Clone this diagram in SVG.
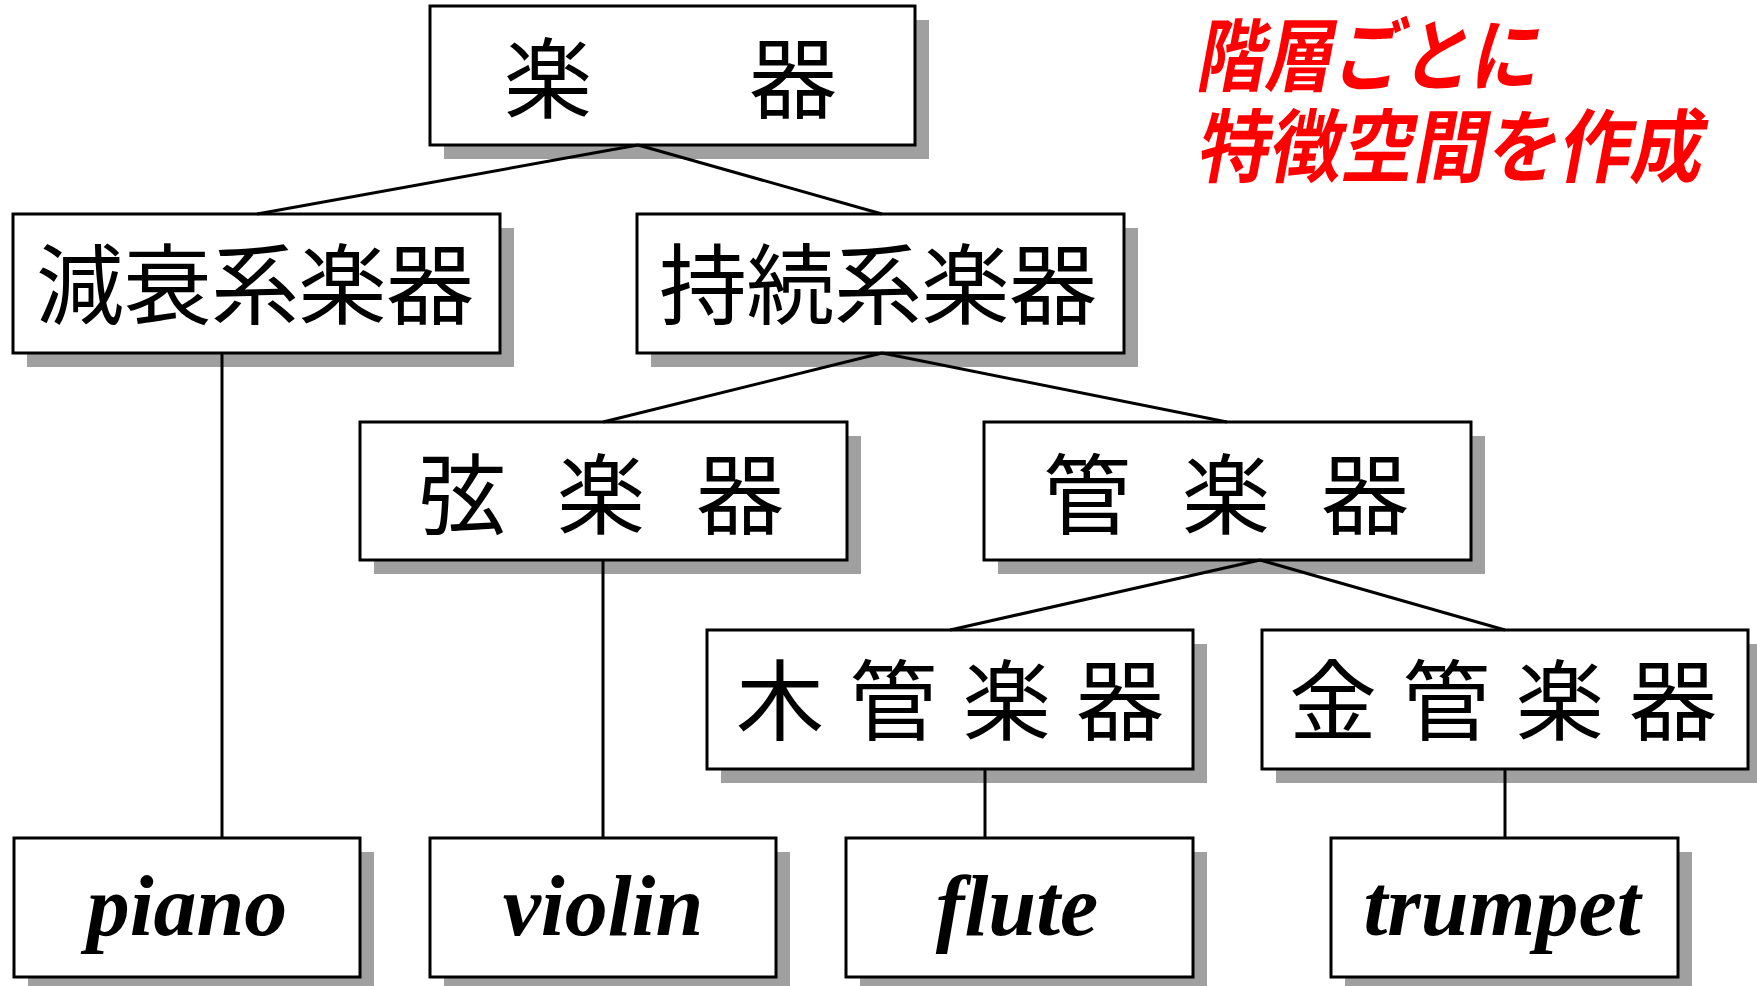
<svg xmlns="http://www.w3.org/2000/svg" width="1757" height="986" viewBox="0 0 1757 986">
<style>
.bg{fill:#ffffff}
.sh{fill:#a0a0a0}
.bx{fill:#ffffff;stroke:#000000;stroke-width:3}
.jp{font-family:"Noto Sans CJK JP","Noto Sans CJK SC",sans-serif;font-size:88px;fill:#000000}
.en{font-family:"Liberation Serif","Times New Roman",serif;font-size:86px;font-weight:bold;font-style:italic;fill:#000000;text-anchor:middle}
.red{font-family:"Noto Sans CJK JP","Noto Sans CJK SC",sans-serif;font-size:80px;font-weight:bold;fill:#ff0000}
.ln{stroke:#000000;stroke-width:3;fill:none}
</style>
<rect class="bg" x="0" y="0" width="1757" height="986"/>
<g id="n-gakki">
<rect class="sh" x="444" y="20" width="485" height="139"/>
<rect class="bx" x="430" y="6" width="485" height="139"/>
<text class="jp" x="504" y="111" textLength="333" lengthAdjust="spacing">楽　　器</text>
</g>
<g id="n-gensui">
<rect class="sh" x="27" y="228" width="487" height="139"/>
<rect class="bx" x="13" y="214" width="487" height="139"/>
<text class="jp" x="36" y="317" textLength="438" lengthAdjust="spacing">減衰系楽器</text>
</g>
<g id="n-jizoku">
<rect class="sh" x="651" y="228" width="487" height="139"/>
<rect class="bx" x="637" y="214" width="487" height="139"/>
<text class="jp" x="659" y="317" textLength="438" lengthAdjust="spacing">持続系楽器</text>
</g>
<g id="n-gen">
<rect class="sh" x="374" y="436" width="487" height="138"/>
<rect class="bx" x="360" y="422" width="487" height="138"/>
<text class="jp" x="418" y="527" textLength="366" lengthAdjust="spacing">弦 楽 器</text>
</g>
<g id="n-kan">
<rect class="sh" x="998" y="436" width="487" height="138"/>
<rect class="bx" x="984" y="422" width="487" height="138"/>
<text class="jp" x="1043" y="527" textLength="366" lengthAdjust="spacing">管 楽 器</text>
</g>
<g id="n-mokkan">
<rect class="sh" x="721" y="644" width="486" height="139"/>
<rect class="bx" x="707" y="630" width="486" height="139"/>
<text class="jp" x="736" y="733" textLength="428" lengthAdjust="spacing">木 管 楽 器</text>
</g>
<g id="n-kinkan">
<rect class="sh" x="1276" y="644" width="486" height="139"/>
<rect class="bx" x="1262" y="630" width="486" height="139"/>
<text class="jp" x="1289" y="733" textLength="428" lengthAdjust="spacing">金 管 楽 器</text>
</g>
<g id="n-piano">
<rect class="sh" x="28" y="852" width="346" height="139"/>
<rect class="bx" x="14" y="838" width="346" height="139"/>
<text class="en" x="187" y="935">piano</text>
</g>
<g id="n-violin">
<rect class="sh" x="444" y="852" width="346" height="139"/>
<rect class="bx" x="430" y="838" width="346" height="139"/>
<text class="en" x="603" y="935">violin</text>
</g>
<g id="n-flute">
<rect class="sh" x="860" y="852" width="347" height="139"/>
<rect class="bx" x="846" y="838" width="347" height="139"/>
<text class="en" x="1017" y="935">flute</text>
</g>
<g id="n-trumpet">
<rect class="sh" x="1345" y="852" width="347" height="139"/>
<rect class="bx" x="1331" y="838" width="347" height="139"/>
<text class="en" x="1502" y="935">trumpet</text>
</g>
<g id="connectors">
<line class="ln" x1="638" y1="145" x2="257" y2="214"/>
<line class="ln" x1="638" y1="145" x2="882" y2="214"/>
<line class="ln" x1="222" y1="353" x2="222" y2="838"/>
<line class="ln" x1="882" y1="353" x2="603" y2="422"/>
<line class="ln" x1="882" y1="353" x2="1227" y2="422"/>
<line class="ln" x1="603" y1="560" x2="603" y2="838"/>
<line class="ln" x1="1260" y1="560" x2="950" y2="630"/>
<line class="ln" x1="1260" y1="560" x2="1505" y2="630"/>
<line class="ln" x1="985" y1="769" x2="985" y2="838"/>
<line class="ln" x1="1505" y1="769" x2="1505" y2="838"/>
</g>
<g id="note">
<text class="red" transform="translate(1195,85) skewX(-10.6) scale(0.855,1)" x="0" y="0">階層ごとに</text>
<text class="red" transform="translate(1195,176) skewX(-10.6) scale(0.904,1)" x="0" y="0">特徴空間を作成</text>
</g>
</svg>
